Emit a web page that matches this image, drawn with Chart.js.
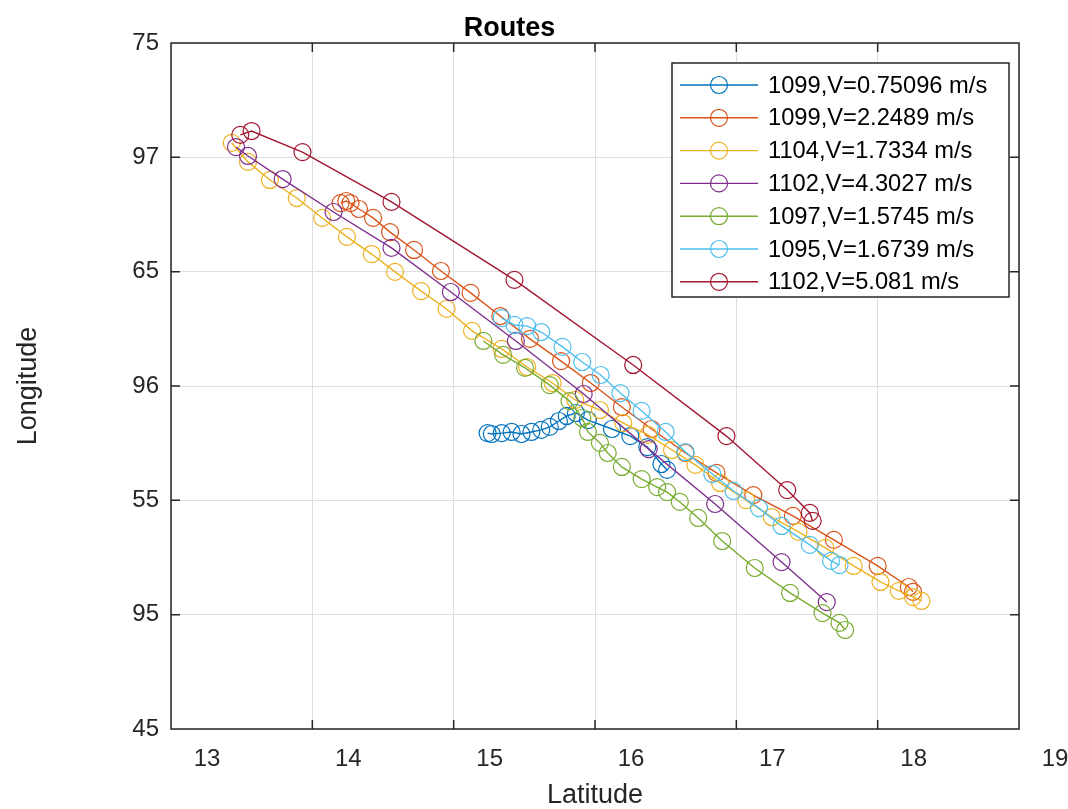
<!DOCTYPE html>
<html>
<head>
<meta charset="utf-8">
<title>Routes</title>
<script src="https://cdn.jsdelivr.net/npm/chart.js@4/dist/chart.umd.min.js"></script>
<style>
	html, body { margin: 0; padding: 0; background: #fff; }
	#routes { display: block; }
</style>
</head>
<body>
<canvas id="routes" width="1068" height="809"></canvas>
<script>
(function () {
	'use strict';

	// ——— Data ———
	var xTickValues = [13, 14, 15, 16, 17, 18, 19];
	var xTickLabels = ['13', '14', '15', '16', '17', '18', '19'];
	var yTickValues = [75, 70, 65, 60, 55, 50, 45];
	var yTickLabels = ['75', '97', '65', '96', '55', '95', '45'];

	var seriesNames = [
		'1099,V=0.75096 m/s',
		'1099,V=2.2489 m/s',
		'1104,V=1.7334 m/s',
		'1102,V=4.3027 m/s',
		'1097,V=1.5745 m/s',
		'1095,V=1.6739 m/s',
		'1102,V=5.081 m/s'
	];
	var seriesColors = ['#0072BD', '#D95319', '#EDB120', '#7E2F8E', '#77AC30', '#4DBEEE', '#A2142F'];

	var lat1099a = [15.24, 15.27, 15.34, 15.41, 15.48, 15.55, 15.62, 15.68, 15.745, 15.80, 15.865, 15.95, 16.12, 16.25, 16.37, 16.47, 16.51];
	var lon1099a = [57.94, 57.90, 57.94, 57.99, 57.90, 57.99, 58.08, 58.21, 58.47, 58.69, 58.82, 58.51, 58.12, 57.81, 57.33, 56.59, 56.33];

	var lat1099b = [14.20, 14.24, 14.27, 14.33, 14.43, 14.55, 14.72, 14.91, 15.12, 15.33, 15.54, 15.76, 15.97, 16.19, 16.40, 16.64, 16.86, 17.12, 17.40, 17.69, 18.00, 18.22, 18.25];
	var lon1099b = [68.00, 68.09, 68.00, 67.74, 67.35, 66.73, 65.95, 65.03, 64.07, 63.06, 62.06, 61.09, 60.13, 59.08, 58.12, 57.07, 56.20, 55.23, 54.32, 53.27, 52.13, 51.21, 51.00];

	var lat1104 = [13.43, 13.545, 13.70, 13.89, 14.07, 14.245, 14.42, 14.585, 14.77, 14.95, 15.13, 15.34, 15.52, 15.70, 15.86, 16.035, 16.20, 16.375, 16.545, 16.71, 16.885, 17.07, 17.25, 17.44, 17.63, 17.83, 18.02, 18.15, 18.25, 18.31];
	var lon1104 = [70.63, 69.80, 69.01, 68.22, 67.35, 66.52, 65.77, 64.99, 64.15, 63.37, 62.41, 61.62, 60.83, 60.13, 59.39, 58.95, 58.38, 57.86, 57.20, 56.55, 55.76, 55.01, 54.27, 53.62, 52.92, 52.13, 51.43, 51.04, 50.77, 50.60];

	var lat1102a = [13.46, 13.545, 13.79, 14.15, 14.56, 14.98, 15.44, 15.92, 16.38, 16.85, 17.32, 17.64];
	var lon1102a = [70.45, 70.06, 69.05, 67.61, 66.04, 64.11, 61.97, 59.65, 57.24, 54.84, 52.30, 50.55];

	var lat1097 = [15.21, 15.35, 15.505, 15.68, 15.82, 15.91, 15.95, 16.035, 16.09, 16.19, 16.33, 16.44, 16.51, 16.60, 16.73, 16.90, 17.13, 17.38, 17.61, 17.73, 17.77];
	var lon1097 = [61.97, 61.36, 60.79, 60.04, 59.34, 58.60, 57.99, 57.51, 57.07, 56.46, 55.93, 55.58, 55.36, 54.93, 54.23, 53.22, 52.04, 50.95, 50.07, 49.64, 49.33];

	var lat1095 = [15.34, 15.43, 15.52, 15.62, 15.77, 15.91, 16.04, 16.18, 16.33, 16.50, 16.64, 16.83, 16.98, 17.16, 17.32, 17.52, 17.67, 17.73];
	var lon1095 = [62.97, 62.67, 62.62, 62.36, 61.71, 61.05, 60.48, 59.69, 58.91, 57.99, 57.11, 56.15, 55.41, 54.66, 53.88, 53.05, 52.35, 52.17];

	var lat1102b = [13.49, 13.57, 13.93, 14.56, 15.43, 16.27, 16.93, 17.36, 17.52, 17.54];
	var lon1102b = [70.98, 71.15, 70.23, 68.05, 64.64, 60.92, 57.81, 55.45, 54.45, 54.10];

	var seriesLat = [lat1099a, lat1099b, lat1104, lat1102a, lat1097, lat1095, lat1102b];
	var seriesLon = [lon1099a, lon1099b, lon1104, lon1102a, lon1097, lon1095, lon1102b];

	var FONT = '"Liberation Sans", Arial, Helvetica, sans-serif';
	var AXIS_COLOR = '#262626';

	function points(lat, lon) {
		return lat.map(function (x, i) { return { x: x, y: lon[i] }; });
	}

	function labelFor(values, labels, v) {
		var i = values.indexOf(v);
		return i >= 0 ? labels[i] : '';
	}

	var datasets = seriesNames.map(function (name, i) {
		return {
			label: name,
			data: points(seriesLat[i], seriesLon[i]),
			showLine: true,
			borderColor: seriesColors[i],
			borderWidth: 1.4,
			tension: 0,
			pointStyle: 'circle',
			pointRadius: 8.5,
			pointHoverRadius: 8.5,
			pointBorderWidth: 1.2,
			pointBorderColor: seriesColors[i],
			pointBackgroundColor: 'rgba(0,0,0,0)',
			order: seriesNames.length - i
		};
	});

	// ——— Box with inward ticks (MATLAB style) ———
	var boxPlugin = {
		id: 'matlabBox',
		afterDatasetsDraw: function (chart) {
			var ctx = chart.ctx;
			var a = chart.chartArea;
			var xs = chart.scales.x;
			var ys = chart.scales.y;
			var len = 9;
			ctx.save();
			ctx.strokeStyle = AXIS_COLOR;
			ctx.lineWidth = 1.5;
			ctx.beginPath();
			ctx.rect(a.left, a.top, a.right - a.left, a.bottom - a.top);
			xTickValues.forEach(function (v) {
				var px = xs.getPixelForValue(v);
				ctx.moveTo(px, a.bottom); ctx.lineTo(px, a.bottom - len);
				ctx.moveTo(px, a.top); ctx.lineTo(px, a.top + len);
			});
			yTickValues.forEach(function (v) {
				var py = ys.getPixelForValue(v);
				ctx.moveTo(a.left, py); ctx.lineTo(a.left + len, py);
				ctx.moveTo(a.right, py); ctx.lineTo(a.right - len, py);
			});
			ctx.stroke();
			ctx.restore();
		}
	};

	// ——— Legend box in the upper right of the axes ———
	var legendPlugin = {
		id: 'matlabLegend',
		afterDraw: function (chart) {
			var ctx = chart.ctx;
			var a = chart.chartArea;
			var boxW = 337, boxH = 234;
			var left = a.right - 10 - boxW;
			var top = a.top + 20;
			var rowH = 32.8;
			ctx.save();
			ctx.fillStyle = '#ffffff';
			ctx.fillRect(left, top, boxW, boxH);
			ctx.strokeStyle = AXIS_COLOR;
			ctx.lineWidth = 1.5;
			ctx.strokeRect(left, top, boxW, boxH);
			ctx.font = '23.7px ' + FONT;
			ctx.textBaseline = 'middle';
			ctx.textAlign = 'left';
			chart.data.datasets.forEach(function (ds, i) {
				var y = top + 22 + i * rowH;
				var x0 = left + 8, x1 = left + 86, cx = left + 47;
				ctx.strokeStyle = ds.borderColor;
				ctx.lineWidth = 1.4;
				ctx.beginPath();
				ctx.moveTo(x0, y); ctx.lineTo(x1, y);
				ctx.stroke();
				ctx.lineWidth = 1.2;
				ctx.beginPath();
				ctx.arc(cx, y, 8.5, 0, Math.PI * 2);
				ctx.stroke();
				ctx.fillStyle = '#000000';
				ctx.fillText(ds.label, left + 96, y + 1);
			});
			ctx.restore();
		}
	};

	new Chart(document.getElementById('routes').getContext('2d'), {
		type: 'scatter',
		data: { datasets: datasets },
		plugins: [boxPlugin, legendPlugin],
		options: {
			responsive: false,
			animation: false,
			devicePixelRatio: 1,
			layout: { padding: { top: 0, right: 49, bottom: 0, left: 0 } },
			plugins: {
				legend: { display: false },
				tooltip: { enabled: false },
				title: {
					display: true,
					text: 'Routes',
					color: '#000000',
					font: { family: FONT, size: 27, weight: 'bold', lineHeight: 1 },
					padding: { top: 15, bottom: 1 }
				}
			},
			scales: {
				x: {
					type: 'linear',
					min: 13,
					max: 19,
					afterFit: function (scale) { scale.height = 80; },
					afterBuildTicks: function (scale) {
						scale.ticks = xTickValues.map(function (v) { return { value: v }; });
					},
					ticks: {
						color: AXIS_COLOR,
						font: { family: FONT, size: 24 },
						padding: 16,
						labelOffset: 36,
						maxRotation: 0,
						callback: function (v) { return labelFor(xTickValues, xTickLabels, v); }
					},
					grid: { color: '#dedede', lineWidth: 1, drawTicks: false },
					border: { display: false },
					title: {
						display: true,
						text: 'Latitude',
						color: AXIS_COLOR,
						font: { family: FONT, size: 27, lineHeight: 1 },
						padding: { top: 0, bottom: 0 }
					}
				},
				y: {
					type: 'linear',
					min: 45,
					max: 75,
					afterFit: function (scale) { scale.width = 171; },
					afterBuildTicks: function (scale) {
						scale.ticks = yTickValues.map(function (v) { return { value: v }; });
					},
					ticks: {
						color: AXIS_COLOR,
						font: { family: FONT, size: 24 },
						padding: 12,
						callback: function (v) { return labelFor(yTickValues, yTickLabels, v); }
					},
					grid: { color: '#dedede', lineWidth: 1, drawTicks: false },
					border: { display: false },
					title: {
						display: true,
						text: 'Longitude',
						color: AXIS_COLOR,
						font: { family: FONT, size: 27, lineHeight: 1 },
						padding: { top: 15, bottom: 0 }
					}
				}
			}
		}
	});
})();
</script>
</body>
</html>
